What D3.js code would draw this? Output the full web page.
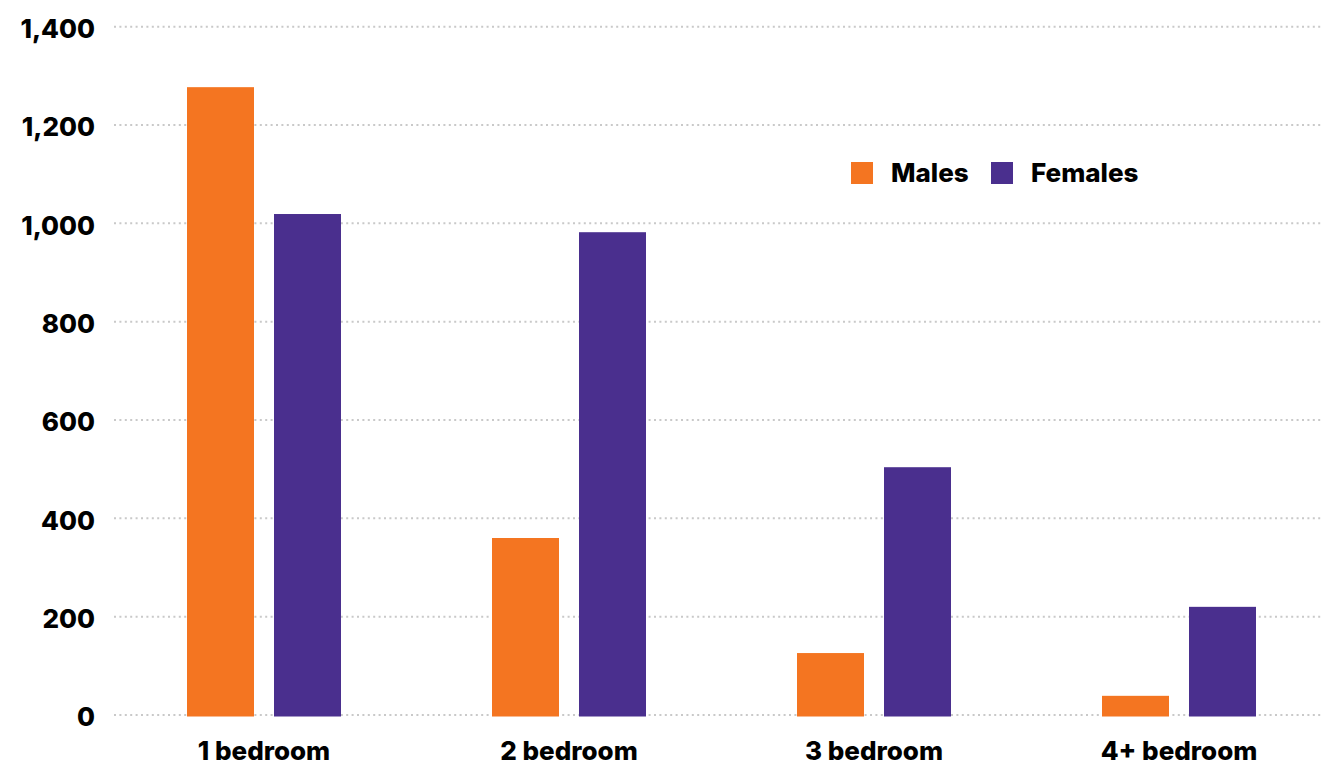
<!DOCTYPE html>
<html>
<head>
<meta charset="utf-8">
<script src="https://cdn.jsdelivr.net/npm/d3@7"></script>
<style>
  html, body { margin: 0; padding: 0; background: #ffffff; }
  svg { display: block; }
  text { font-family: "Inter", "Open Sans", sans-serif; font-weight: 800; fill: #000; }
</style>
</head>
<body>
<svg id="chart" width="1335" height="767"></svg>
<script>
// Households by number of bedrooms, split by sex
const categories = ["1 bedroom", "2 bedroom", "3 bedroom", "4+ bedroom"];
const seriesNames = ["Males", "Females"];
const males = [1277, 360, 126, 39];
const females = [1019, 982, 504, 220];
const yTicks = [0, 200, 400, 600, 800, 1000, 1200, 1400];
const colors = ["#F47521", "#4A2F8E"];

const svg = d3.select("#chart");
const plot = { left: 111.5, right: 1331.5, top: 26.7, bottom: 715 };
const fontSize = 26;

const x0 = d3.scaleBand().domain(categories).range([plot.left, plot.right]).paddingInner(0).paddingOuter(0);
const groupWidth = 154;
const x1 = d3.scaleBand().domain(seriesNames).range([0, groupWidth]).paddingInner(20 / 87).paddingOuter(0);
const y = d3.scaleLinear().domain([0, 1400]).range([plot.bottom, plot.top]);

// Dotted horizontal gridlines
svg.append("g")
  .selectAll("line")
  .data(yTicks)
  .join("line")
  .attr("x1", 114)
  .attr("x2", 1321)
  .attr("y1", d => y(d))
  .attr("y2", d => y(d))
  .attr("stroke", "#c9c9c9")
  .attr("stroke-width", 2)
  .attr("stroke-dasharray", "2 3.4");

// Y axis labels
const yAxis = d3.axisLeft(y).tickValues(yTicks).tickFormat(d3.format(",")).tickSize(0).tickPadding(0);
const yg = svg.append("g").attr("transform", "translate(95,0)").call(yAxis);
yg.select(".domain").remove();
yg.selectAll("text")
  .attr("font-size", fontSize)
  .attr("font-family", "Inter, sans-serif")
  .attr("font-weight", 800)
  .attr("fill", "#000")
  .attr("dy", "0.42em");

// Bars
const rows = categories.map((c, i) => ({ category: c, values: [males[i], females[i]] }));
const groups = svg.append("g")
  .selectAll("g")
  .data(rows)
  .join("g")
  .attr("transform", d => `translate(${x0(d.category) + (x0.bandwidth() - groupWidth) / 2},0)`);

groups.selectAll("rect")
  .data(d => d.values.map((v, j) => ({ key: seriesNames[j], value: v, j })))
  .join("rect")
  .attr("x", d => x1(d.key))
  .attr("width", x1.bandwidth())
  .attr("y", d => y(d.value))
  .attr("height", d => y(0) + 1.5 - y(d.value))
  .attr("fill", d => colors[d.j]);

// X axis labels
const xAxis = d3.axisBottom(x0).tickSize(0).tickPadding(0);
const xg = svg.append("g").attr("transform", "translate(0,760)").call(xAxis);
xg.select(".domain").remove();
xg.selectAll("text")
  .attr("font-size", fontSize)
  .attr("font-family", "Inter, sans-serif")
  .attr("font-weight", 800)
  .attr("fill", "#000")
  .attr("dy", 0);

// Legend
const legendItems = [
  { name: "Males", sx: 851, tx: 891 },
  { name: "Females", sx: 991, tx: 1031 }
];
const legend = svg.append("g");
legend.selectAll("rect")
  .data(legendItems)
  .join("rect")
  .attr("x", d => d.sx)
  .attr("y", 162)
  .attr("width", 22)
  .attr("height", 22)
  .attr("fill", (d, i) => colors[i]);
legend.selectAll("text")
  .data(legendItems)
  .join("text")
  .attr("x", d => d.tx)
  .attr("y", 173)
  .attr("dy", "0.36em")
  .attr("font-size", fontSize)
  .attr("font-weight", 800)
  .text(d => d.name);
</script>
</body>
</html>
